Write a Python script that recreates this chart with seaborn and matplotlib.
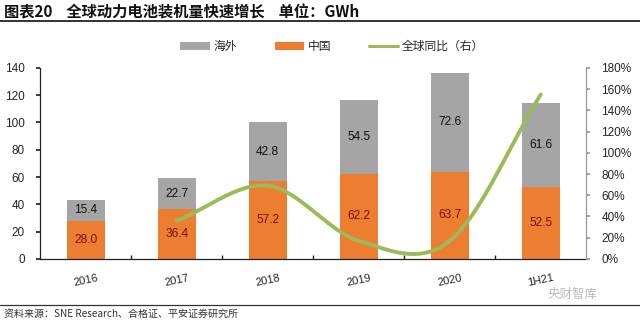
import numpy as np
import pandas as pd
import matplotlib
matplotlib.use("Agg")
import matplotlib.pyplot as plt
import seaborn as sns
from matplotlib.patches import Patch
from matplotlib.lines import Line2D

years = ["2016", "2017", "2018", "2019", "2020", "1H21"]
china = [28.0, 36.4, 57.2, 62.2, 63.7, 52.5]
overseas = [15.4, 22.7, 42.8, 54.5, 72.6, 61.6]
growth_years = ["2017", "2018", "2019", "2020", "1H21"]
growth = [36, 69, 17, 17, 155]  # %
left_ticks = [0, 20, 40, 60, 80, 100, 120, 140]
right_ticks = [0, 20, 40, 60, 80, 100, 120, 140, 160, 180]

sns.set_theme(style="white")
plt.rcParams['font.family'] = ['Liberation Sans', 'Noto Sans CJK SC', 'DejaVu Sans']
CJK = ['Noto Sans CJK SC', 'DejaVu Sans']

C_ORANGE = "#ED7D31"
C_GRAY = "#A5A5A5"
C_GREEN = "#9BBB59"

df = pd.DataFrame({"year": years, "china": china, "overseas": overseas})
df["total"] = df["china"] + df["overseas"]

fig = plt.figure(figsize=(6.4, 3.22), dpi=100)
ax = fig.add_axes([0.063, 0.196, 0.853, 0.593])

sns.barplot(data=df, x="year", y="total", color=C_GRAY, width=0.42, ax=ax,
            saturation=1, edgecolor="none", order=years)
sns.barplot(data=df, x="year", y="china", color=C_ORANGE, width=0.42, ax=ax,
            saturation=1, edgecolor="none", order=years)

for i, (c, o) in enumerate(zip(china, overseas)):
    ax.text(i, c / 2, f"{c:.1f}", ha="center", va="center", fontsize=8.6, color="#7a1010")
    ax.text(i, c + o / 2, f"{o:.1f}", ha="center", va="center", fontsize=8.6, color="#111111")

ax.set_xlim(-0.5, len(years) - 0.5)
ax.set_ylim(0, 140)
ax.set_yticks(left_ticks)
ax.set_yticklabels([str(t) for t in left_ticks], fontsize=8.5)
ax.set_xticks(range(len(years)))
ax.set_xticklabels(years, fontsize=8, rotation=12)
ax.set_xlabel("")
ax.set_ylabel("")
for s in ["top", "right"]:
    ax.spines[s].set_visible(False)
ax.spines["left"].set_color("#222222")
ax.spines["bottom"].set_color("#222222")
ax.spines["left"].set_linewidth(0.9)
ax.spines["bottom"].set_linewidth(0.9)
ax.tick_params(axis="y", which="both", left=True, length=3, color="#222222", pad=8)
ax.tick_params(axis="x", bottom=False, pad=4)
ax.set_xticks(np.arange(0.5, len(years) - 0.5, 1), minor=True)
ax.tick_params(axis="x", which="minor", bottom=True, length=3, color="#222222", direction="in")

# right axis growth line (Catmull-Rom smoothing of the data points)
ax2 = ax.twinx()
gx = np.array([years.index(y) for y in growth_years], dtype=float)
gy = np.array(growth, dtype=float)
n = len(gx)
tang = np.zeros(n)
tang[0] = gy[1] - gy[0]
tang[-1] = gy[-1] - gy[-2]
for k in range(1, n - 1):
    tang[k] = (gy[k + 1] - gy[k - 1]) / 2
sx, sy = [], []
t = np.linspace(0, 1, 40)
h00 = 2 * t**3 - 3 * t**2 + 1
h10 = t**3 - 2 * t**2 + t
h01 = -2 * t**3 + 3 * t**2
h11 = t**3 - t**2
for k in range(n - 1):
    sx.extend(gx[k] + t * (gx[k + 1] - gx[k]))
    sy.extend(h00 * gy[k] + h10 * tang[k] + h01 * gy[k + 1] + h11 * tang[k + 1])
sns.lineplot(x=sx, y=sy, sort=False, ax=ax2, color=C_GREEN, linewidth=2.8, estimator=None)
ax2.set_ylim(0, 180)
ax2.set_yticks(right_ticks)
ax2.set_yticklabels([f"{t}%" for t in right_ticks], fontsize=8.5)
ax2.set_xlim(-0.5, len(years) - 0.5)
for s in ["top", "left"]:
    ax2.spines[s].set_visible(False)
ax2.spines["bottom"].set_visible(False)
ax2.spines["right"].set_color("#999999")
ax2.spines["right"].set_linewidth(0.9)
ax2.tick_params(axis="y", right=True, length=3, color="#999999", pad=8)
ax2.grid(False)
ax.grid(False)

# legend
handles = [Patch(facecolor=C_GRAY, edgecolor="none"),
           Patch(facecolor=C_ORANGE, edgecolor="none"),
           Line2D([0], [0], color=C_GREEN, linewidth=2.2)]
labels = ["海外", "中国", "全球同比（右）"]
fig.legend(handles, labels, loc="center", bbox_to_anchor=(0.519, 0.855), ncol=3,
           frameon=False, prop={"family": CJK, "size": 8.5}, handlelength=2.5,
           handleheight=0.6, columnspacing=3.2, handletextpad=0.3)

# title and footer
fig.text(0.006, 0.962, "图表20    全球动力电池装机量快速增长    单位：GWh", fontsize=11,
         fontweight="bold", family=CJK, va="center", ha="left", color="#111111")
fig.add_artist(Line2D([0.0, 1.0], [0.935, 0.935], color="#111111", linewidth=1.2))
fig.add_artist(Line2D([0.0, 1.0], [0.052, 0.052], color="#333333", linewidth=0.9))
fig.text(0.006, 0.026, "资料来源：SNE Research、合格证、平安证券研究所", fontsize=7.2,
         style="italic", family=CJK, va="center", ha="left", color="#333333")
fig.text(0.895, 0.085, "央财智库", fontsize=9, family=CJK, va="center", ha="center",
         color="#bbbbbb")

fig.savefig("out.png", dpi=100)
